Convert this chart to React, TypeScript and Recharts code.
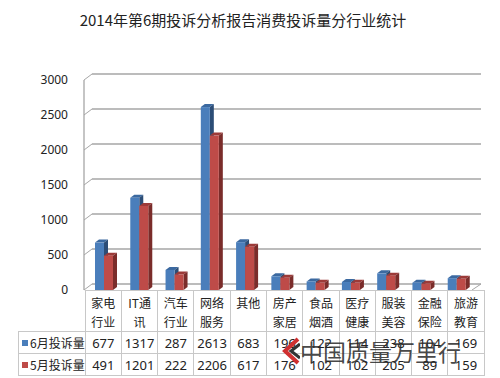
import { BarChart, Bar, YAxis, CartesianGrid } from 'recharts'

const CATEGORIES = ['家电\n行业', 'IT通\n讯', '汽车\n行业', '网络\n服务', '其他', '房产\n家居', '食品\n烟酒', '医疗\n健康', '服装\n美容', '金融\n保险', '旅游\n教育']
const JUNE = [677, 1317, 287, 2613, 683, 196, 122, 114, 238, 104, 169]
const MAY = [491, 1201, 222, 2206, 617, 176, 102, 102, 205, 89, 159]
const Y_TICKS = [0, 500, 1000, 1500, 2000, 2500, 3000]

const SERIES = [
  { key: 'june', name: '6月投诉量', values: JUNE, color: '#4a7ebb', side: '#2c4d76', top: '#3b69a0' },
  { key: 'may', name: '5月投诉量', values: MAY, color: '#be4b48', side: '#7a2c2a', top: '#9c3a38' },
]

const data = CATEGORIES.map((c, i) => ({ name: c, june: JUNE[i], may: MAY[i] }))

const PLOT_LEFT = 84
const PLOT_RIGHT = 472
const PLOT_TOP = 80
const PLOT_BOTTOM = 290
const DX = 8
const DY = 6
const FONT = '"Noto Sans CJK SC", "Noto Sans", sans-serif'
const COL_W = (PLOT_RIGHT - PLOT_LEFT) / CATEGORIES.length

const make3D = (side: string, top: string) => (props: any) => {
  const { x, y, width, height, fill } = props
  const d = 4
  const e = 3
  const xs = x + 2
  if (!height || height <= 0) return null
  return (
    <g>
      <polygon
        points={`${xs},${y} ${xs + d},${y - e} ${xs + width + d},${y - e} ${xs + width},${y}`}
        fill={top}
      />
      <polygon
        points={`${xs + width},${y} ${xs + width + d},${y - e} ${xs + width + d},${y + height - e} ${xs + width},${y + height}`}
        fill={side}
      />
      <rect x={xs} y={y} width={width} height={height} fill={fill} />
    </g>
  )
}

const gridLine = (props: any) => {
  const { x1, y1, x2 } = props
  const isFloor = Math.abs(y1 - PLOT_BOTTOM) < 1
  return (
    <g key={`g-${y1}`}>
      <line x1={x1 + DX} y1={y1 - DY} x2={x2 + DX + 1} y2={y1 - DY} stroke="#a6a6a6" strokeWidth={1.3} />
      <line x1={x1} y1={y1} x2={x1 + DX} y2={y1 - DY} stroke="#a6a6a6" strokeWidth={1} />
      {isFloor && (
        <line x1={x2} y1={y1} x2={x2 + DX + 1} y2={y1 - DY} stroke="#a6a6a6" strokeWidth={1} />
      )}
    </g>
  )
}

const border = '1px solid #c8c8c8'

export default function App() {
  return (
    <div
      style={{
        position: 'absolute',
        left: 0,
        top: 0,
        width: 500,
        height: 378,
        background: '#fff',
        fontFamily: FONT,
        overflow: 'hidden',
      }}
    >
      <div
        style={{
          position: 'absolute',
          top: 9,
          left: 0,
          width: 486,
          textAlign: 'center',
          fontSize: 15,
          color: '#222',
        }}
      >
        2014年第6期投诉分析报告消费投诉量分行业统计
      </div>

      <div style={{ position: 'absolute', left: 0, top: 0 }}>
        <BarChart
          width={500}
          height={300}
          data={data}
          margin={{ top: PLOT_TOP, right: 500 - PLOT_RIGHT, bottom: 300 - PLOT_BOTTOM, left: 24 }}
          barGap={0}
          barSize={9}
        >
          <CartesianGrid vertical={false} horizontal={gridLine} />
          <YAxis
            width={60}
            domain={[0, 3000]}
            ticks={Y_TICKS}
            tick={{ fontSize: 12, fill: '#222', fontFamily: '"Noto Sans", sans-serif' }}
            tickLine={false}
            tickMargin={10}
            axisLine={{ stroke: '#a6a6a6', strokeWidth: 1.3 }}
            interval={0}
          />
          {SERIES.map((s) => (
            <Bar
              key={s.key}
              dataKey={s.key}
              name={s.name}
              fill={s.color}
              shape={make3D(s.side, s.top)}
              isAnimationActive={false}
            />
          ))}
        </BarChart>
      </div>

      <table
        style={{
          position: 'absolute',
          left: 18,
          top: PLOT_BOTTOM,
          borderCollapse: 'collapse',
          tableLayout: 'fixed',
          fontSize: 12,
          color: '#222',
        }}
      >
        <tbody>
          <tr style={{ height: 40 }}>
            <td style={{ width: PLOT_LEFT - 18, padding: 0 }} />
            {CATEGORIES.map((c) => (
              <td
                key={c}
                style={{
                  width: COL_W,
                  padding: '2px 0 0 0',
                  borderLeft: border,
                  borderRight: border,
                  borderTop: border,
                  textAlign: 'center',
                  verticalAlign: 'top',
                  whiteSpace: 'pre-line',
                  lineHeight: '19px',
                }}
              >
                {c}
              </td>
            ))}
          </tr>
          {SERIES.map((s) => (
            <tr key={s.key} style={{ height: 22 }}>
              <td style={{ border, padding: 0, whiteSpace: 'nowrap', fontSize: 12 }}>
                <span
                  style={{
                    display: 'inline-block',
                    width: 6,
                    height: 6,
                    background: s.color,
                    margin: '0 2px 2px 3px',
                  }}
                />
                {s.name}
              </td>
              {s.values.map((v, i) => (
                <td
                  key={i}
                  style={{
                    border,
                    padding: 0,
                    textAlign: 'center',
                    fontSize: 13,
                    fontFamily: '"Noto Sans", sans-serif',
                  }}
                >
                  {v}
                </td>
              ))}
            </tr>
          ))}
        </tbody>
      </table>

      <div style={{ position: 'absolute', left: 282, top: 334, display: 'flex', alignItems: 'center' }}>
        <svg width={18} height={28}>
          <polyline points="16,2 3,14 16,26" fill="none" stroke="#d03030" strokeWidth={4} />
          <polyline points="18,7 9,14 18,21" fill="none" stroke="#333" strokeWidth={3} />
        </svg>
        <span style={{ fontSize: 23, color: 'rgba(40,40,40,0.85)', letterSpacing: 0 }}>中国质量万里行</span>
      </div>
    </div>
  )
}
